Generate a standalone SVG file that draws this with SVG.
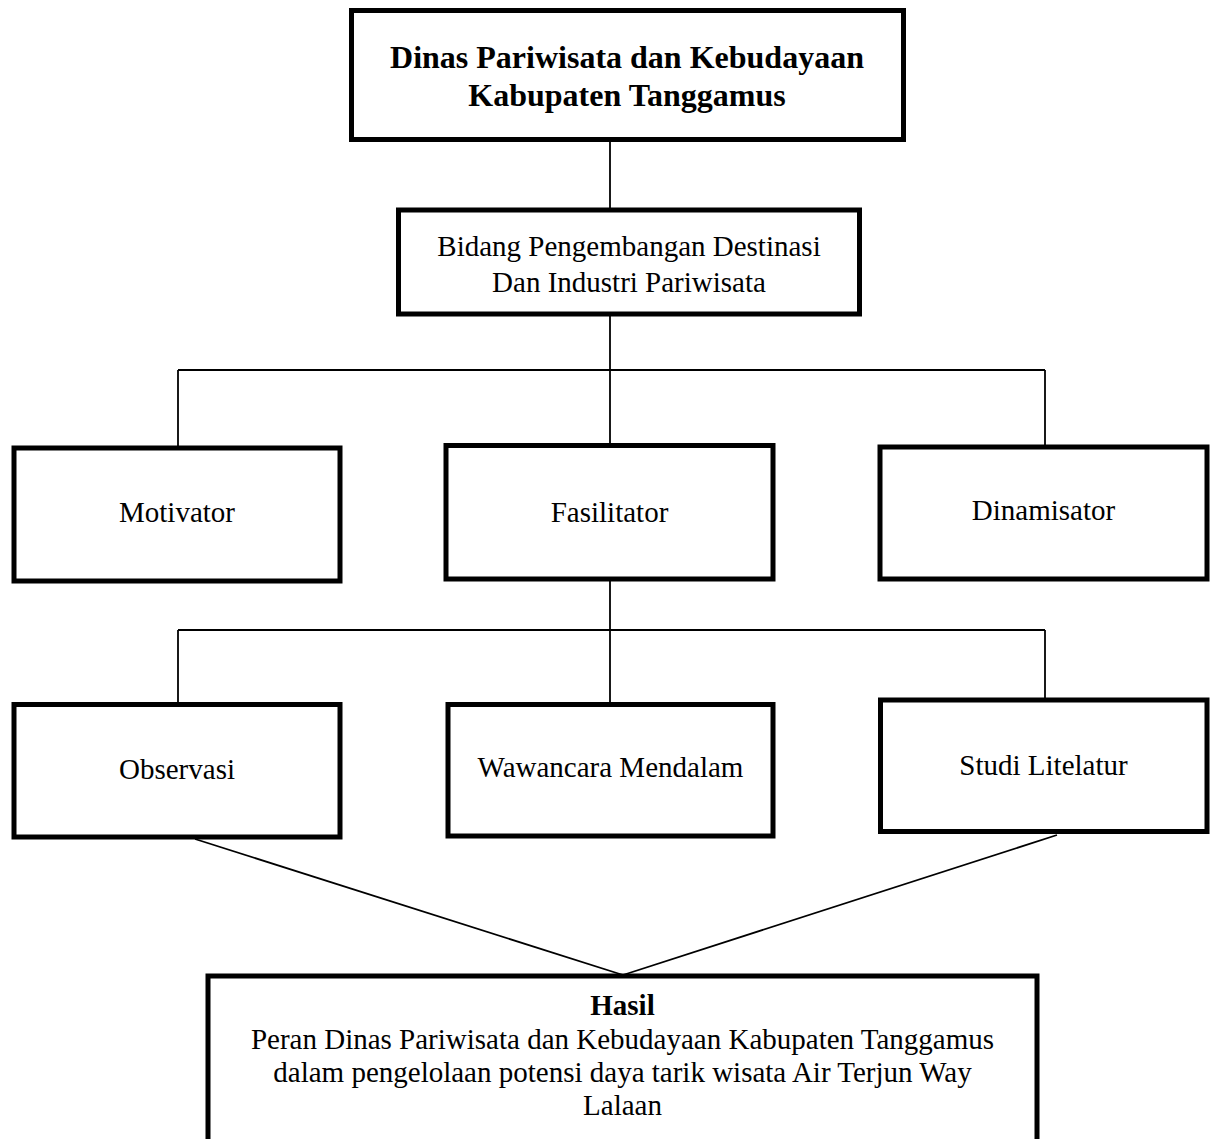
<svg xmlns="http://www.w3.org/2000/svg" width="1210" height="1139" viewBox="0 0 1210 1139">
<style>
.box{fill:#fff;stroke:#000;stroke-width:5}
.t{font-family:"Liberation Serif","Times New Roman",serif;font-size:29px;fill:#000;text-anchor:middle}
.b{font-weight:bold}
.c{stroke:#000;stroke-width:1.8;fill:none}
</style>
<rect width="1210" height="1139" fill="#fff"/>
<g id="connectors">
<line class="c" x1="610" y1="140" x2="610" y2="210"/>
<line class="c" x1="610" y1="314" x2="610" y2="446"/>
<line class="c" x1="178" y1="370" x2="1045" y2="370"/>
<line class="c" x1="178" y1="370" x2="178" y2="448"/>
<line class="c" x1="1045" y1="370" x2="1045" y2="447"/>
<line class="c" x1="610" y1="580" x2="610" y2="704"/>
<line class="c" x1="178" y1="630" x2="1045" y2="630"/>
<line class="c" x1="178" y1="630" x2="178" y2="704"/>
<line class="c" x1="1045" y1="630" x2="1045" y2="700"/>
<line class="c" x1="195" y1="839" x2="623" y2="975"/>
<line class="c" x1="1057" y1="835" x2="623" y2="975"/>
</g>
<g id="dinas">
<rect class="box" x="351.5" y="10.5" width="552" height="129"/>
<text class="t b" x="627" y="68" font-size="32" style="font-size:32px">Dinas Pariwisata dan Kebudayaan</text>
<text class="t b" x="627" y="106" style="font-size:32px">Kabupaten Tanggamus</text>
</g>
<g id="bidang">
<rect class="box" x="398.5" y="210" width="461" height="104"/>
<text class="t" x="629" y="256">Bidang Pengembangan Destinasi</text>
<text class="t" x="629" y="292">Dan Industri Pariwisata</text>
</g>
<g id="motivator">
<rect class="box" x="14" y="448" width="326" height="133"/>
<text class="t" x="177" y="522">Motivator</text>
</g>
<g id="fasilitator">
<rect class="box" x="446" y="445.5" width="327" height="133.5"/>
<text class="t" x="609.5" y="522">Fasilitator</text>
</g>
<g id="dinamisator">
<rect class="box" x="880" y="447" width="327" height="132"/>
<text class="t" x="1043.5" y="520">Dinamisator</text>
</g>
<g id="observasi">
<rect class="box" x="14" y="704.5" width="326" height="132.5"/>
<text class="t" x="177" y="779">Observasi</text>
</g>
<g id="wawancara">
<rect class="box" x="448" y="704.5" width="325" height="131.5"/>
<text class="t" x="610.5" y="777">Wawancara Mendalam</text>
</g>
<g id="studi">
<rect class="box" x="880.5" y="700" width="326.5" height="131.5"/>
<text class="t" x="1043.5" y="775">Studi Litelatur</text>
</g>
<g id="hasil">
<rect class="box" x="208" y="976" width="829" height="180"/>
<text class="t b" x="622.5" y="1015">Hasil</text>
<text class="t" x="622.5" y="1049">Peran Dinas Pariwisata dan Kebudayaan Kabupaten Tanggamus</text>
<text class="t" x="622.5" y="1082">dalam pengelolaan potensi daya tarik wisata Air Terjun Way</text>
<text class="t" x="622.5" y="1115">Lalaan</text>
</g>
</svg>
